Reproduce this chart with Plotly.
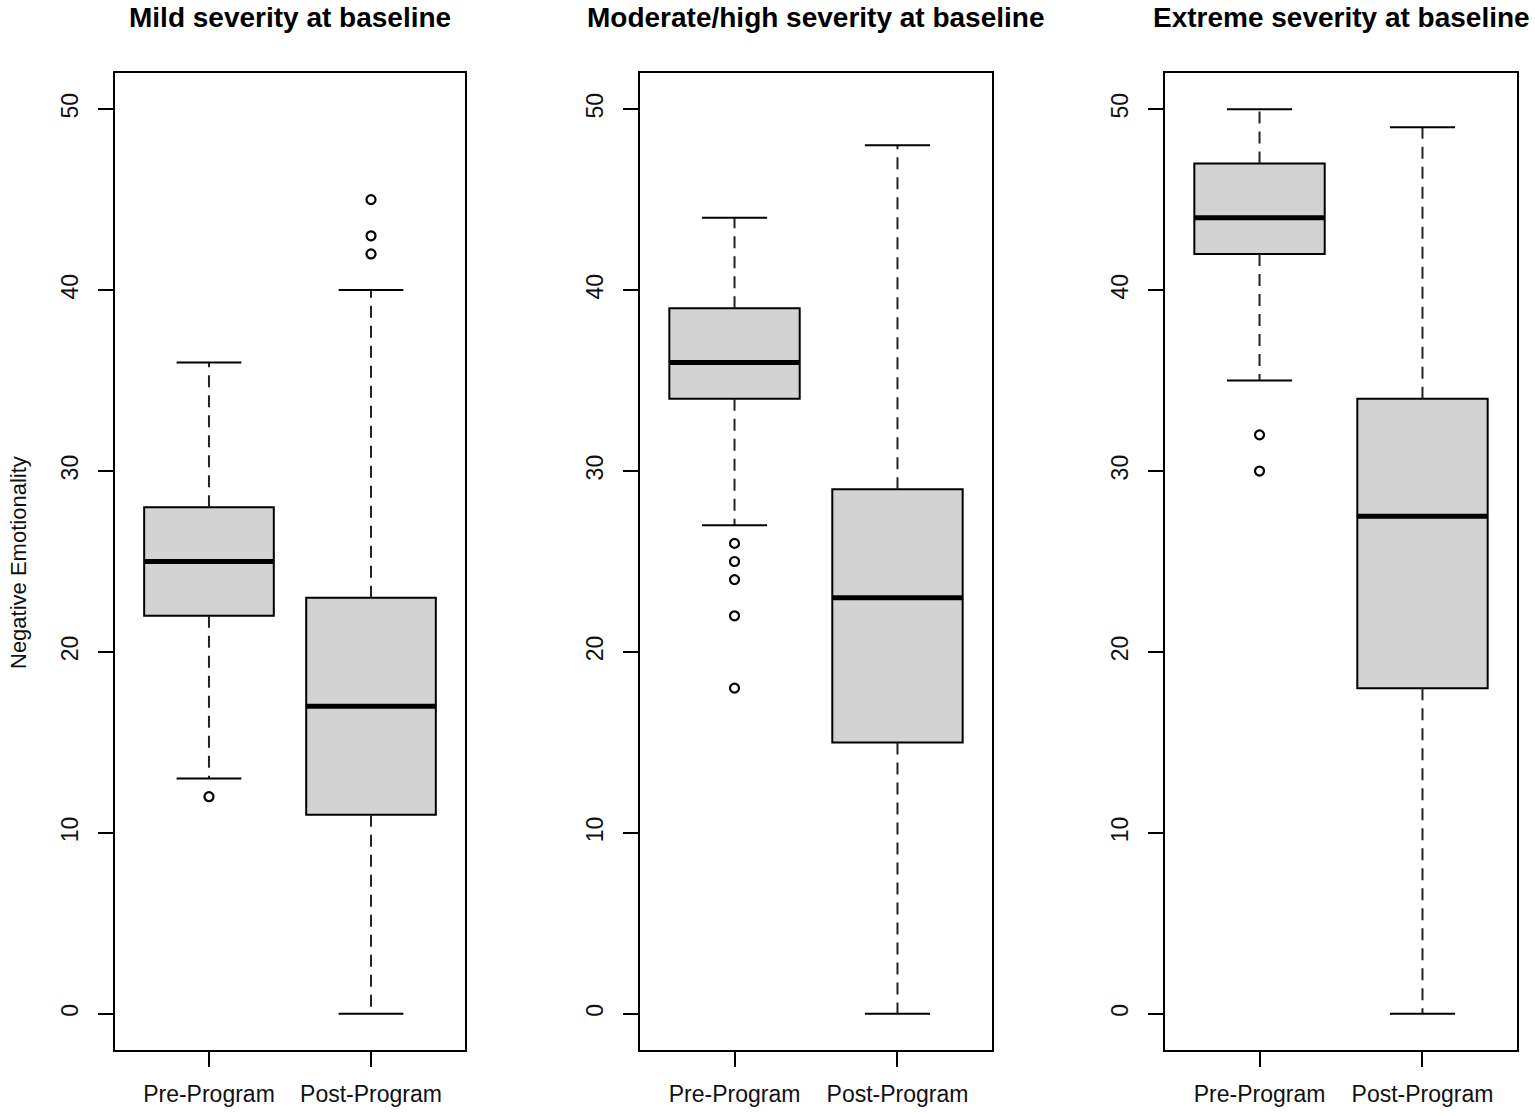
import plotly.graph_objects as go

# box statistics, one list per panel: [pre, post]
panel_titles = ["Mild severity at baseline",
                "Moderate/high severity at baseline",
                "Extreme severity at baseline"]
group_labels = ["Pre-Program", "Post-Program"]
positions = [1, 2]

lower_whisker = [[13, 0], [27, 0], [35, 0]]
q1 = [[22, 11], [34, 15], [42, 18]]
median = [[25, 17], [36, 23], [44, 27.5]]
q3 = [[28, 23], [39, 29], [47, 34]]
upper_whisker = [[36, 40], [44, 48], [50, 49]]
outliers = [
    [[12], [42, 43, 45]],
    [[26, 25, 24, 22, 18], []],
    [[32, 30], []],
]

y_ticks = [0, 10, 20, 30, 40, 50]
box_width = 0.8
cap_width = 0.4

FONT = "Liberation Sans, Arial, sans-serif"
W, H = 1535, 1116
panel_px = [(115, 465), (640, 992), (1165, 1517)]
top_px, bottom_px = 73, 1050

fig = go.Figure()

# boxes first so the line traces sit on top
for p in range(3):
    xa = "x" if p == 0 else f"x{p + 1}"
    ya = "y" if p == 0 else f"y{p + 1}"
    fig.add_trace(go.Box(
        x=positions, q1=q1[p], median=median[p], q3=q3[p],
        lowerfence=q1[p], upperfence=q3[p],
        width=box_width, boxpoints=False,
        fillcolor="#d3d3d3", line=dict(color="black", width=2),
        xaxis=xa, yaxis=ya, showlegend=False, hoverinfo="skip",
    ))

for p in range(3):
    xa = "x" if p == 0 else f"x{p + 1}"
    ya = "y" if p == 0 else f"y{p + 1}"
    for i, pos in enumerate(positions):
        # dashed whiskers
        for a, b in [(q3[p][i], upper_whisker[p][i]), (q1[p][i], lower_whisker[p][i])]:
            fig.add_trace(go.Scatter(
                x=[pos, pos], y=[a, b], mode="lines",
                line=dict(color="#222222", width=2, dash="12px,8px"),
                xaxis=xa, yaxis=ya, showlegend=False, hoverinfo="skip",
            ))
        # whisker caps
        for v in [upper_whisker[p][i], lower_whisker[p][i]]:
            fig.add_trace(go.Scatter(
                x=[pos - cap_width / 2, pos + cap_width / 2], y=[v, v], mode="lines",
                line=dict(color="black", width=2),
                xaxis=xa, yaxis=ya, showlegend=False, hoverinfo="skip",
            ))
        # thick median
        fig.add_trace(go.Scatter(
            x=[pos - box_width / 2, pos + box_width / 2], y=[median[p][i]] * 2,
            mode="lines", line=dict(color="black", width=5),
            xaxis=xa, yaxis=ya, showlegend=False, hoverinfo="skip",
        ))
        if outliers[p][i]:
            fig.add_trace(go.Scatter(
                x=[pos] * len(outliers[p][i]), y=outliers[p][i], mode="markers",
                marker=dict(symbol="circle-open", size=9, color="black",
                            line=dict(width=2.2, color="black")),
                xaxis=xa, yaxis=ya, showlegend=False, hoverinfo="skip",
            ))

layout = dict(
    width=W, height=H,
    margin=dict(l=0, r=0, t=0, b=0),
    paper_bgcolor="white", plot_bgcolor="white",
    font=dict(family=FONT, color="black", size=23),
    showlegend=False,
)
y_dom = [1 - bottom_px / H, 1 - top_px / H]
annotations = []
for p in range(3):
    suffix = "" if p == 0 else str(p + 1)
    x0, x1 = panel_px[p]
    layout[f"xaxis{suffix}"] = dict(
        domain=[x0 / W, x1 / W], range=[0.42, 2.58],
        tickvals=positions, ticktext=group_labels,
        showline=True, mirror=True, linecolor="black", linewidth=2,
        ticks="outside", ticklen=15, tickwidth=2, tickcolor="black",
        ticklabelstandoff=7,
        showgrid=False, zeroline=False, anchor=f"y{suffix}",
        tickfont=dict(size=23, color="#111111"),
    )
    layout[f"yaxis{suffix}"] = dict(
        domain=y_dom, range=[-2, 52],
        tickvals=y_ticks, tickangle=-90,
        showline=True, mirror=True, linecolor="black", linewidth=2,
        ticks="outside", ticklen=15, tickwidth=2, tickcolor="black",
        ticklabelstandoff=11,
        showgrid=False, zeroline=False, anchor=f"x{suffix}",
        tickfont=dict(size=23, color="#111111"),
    )
    annotations.append(dict(
        text=f"<b>{panel_titles[p]}</b>", xref="paper", yref="paper",
        x=(x0 + x1) / 2 / W, y=1 - 18 / H, xanchor="center", yanchor="middle",
        showarrow=False, font=dict(size=28, family=FONT, color="black"),
    ))

annotations.append(dict(
    text="Negative Emotionality", xref="paper", yref="paper",
    x=18 / W, y=1 - 563 / H, xanchor="center", yanchor="middle",
    textangle=-90, showarrow=False, font=dict(size=22, family=FONT, color="#111111"),
))
layout["annotations"] = annotations
fig.update_layout(**layout)

# drop the default body margin so the figure sits at the page corner
fig.write_html("out.html", config={"displayModeBar": False},
               post_script="document.body.style.margin='0';")
